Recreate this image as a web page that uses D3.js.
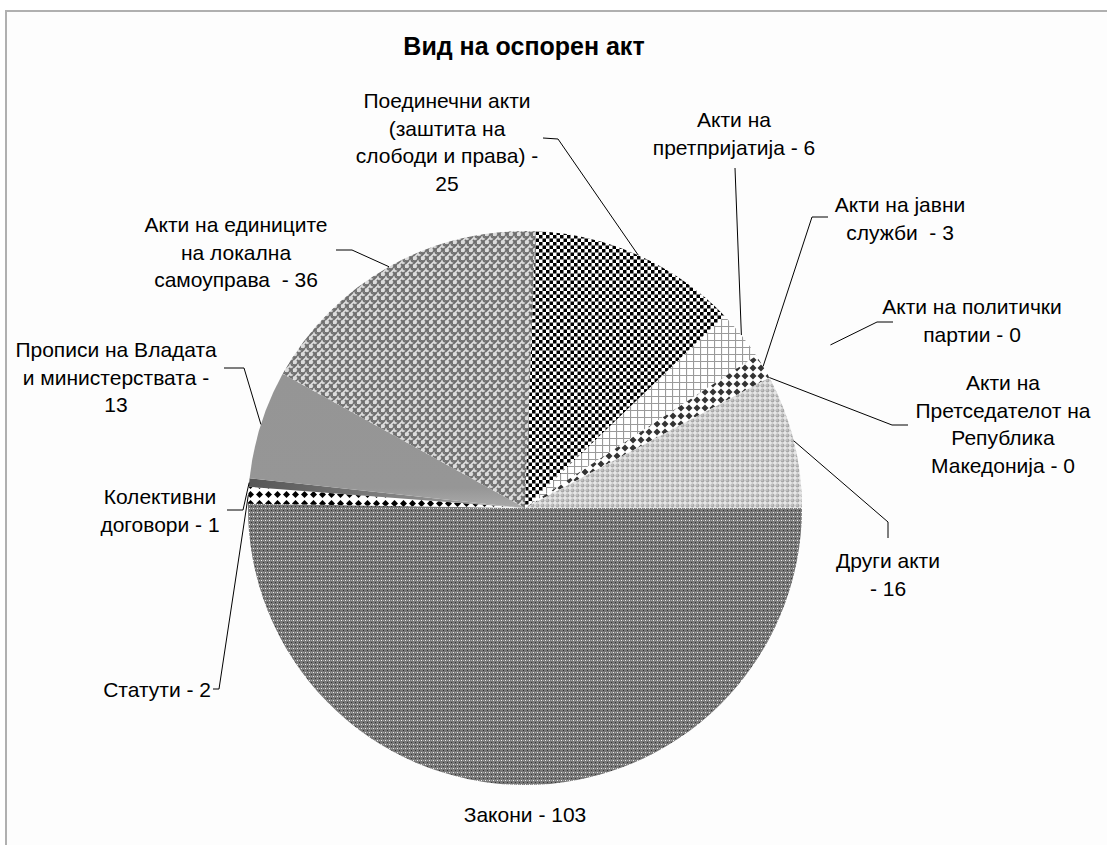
<!DOCTYPE html>
<meta charset="utf-8">
<head>
    <title>Вид на оспорен акт</title>
    <script type="text/javascript" src="https://cdn.jsdelivr.net/npm/d3@7"></script>
    <style>
        body { margin: 0; padding: 0; background: #ffffff; }
        text { font-family: "Liberation Sans", Arial, sans-serif; fill: #000; }
    </style>
</head>

<body>
    <script>
        // Data
        const categories = ["Закони", "Статути", "Колективни договори", "Прописи на Владата и министерствата",
            "Акти на единиците на локална самоуправа", "Поединечни акти (заштита на слободи и права)",
            "Акти на претпријатија", "Акти на јавни служби", "Акти на политички партии",
            "Акти на Претседателот на Република Македонија", "Други акти"];
        const values = [103, 2, 1, 13, 36, 25, 6, 3, 0, 0, 16];
        const labelLines = [
            ["Закони - 103"],
            ["Статути - 2"],
            ["Колективни", "договори - 1"],
            ["Прописи на Владата", "и министерствата -", "13"],
            ["Акти на единиците", "на локална", "самоуправа  - 36"],
            ["Поединечни акти", "(заштита на", "слободи и права) -", "25"],
            ["Акти на", "претпријатија - 6"],
            ["Акти на јавни", "служби  - 3"],
            ["Акти на политички", "партии - 0"],
            ["Акти на", "Претседателот на", "Република", "Македонија - 0"],
            ["Други акти", "- 16"]
        ];
        const title = "Вид на оспорен акт";

        // Layout of labels (text position, anchor, leader elbows, leader reach)
        const labelLayout = [
            {x: 525, y: 822, anchor: "middle", elbow: null, reach: 1},
            {x: 211, y: 697, anchor: "end", elbow: [[213, 689], [219, 689]], reach: 1},
            {x: 160, y: 504, anchor: "middle", elbow: [[227, 510], [243, 510]], reach: 1},
            {x: 116, y: 357, anchor: "middle", elbow: [[224, 368], [244, 368]], reach: 1},
            {x: 236, y: 232, anchor: "middle", elbow: [[336, 250], [352, 250]], reach: 1},
            {x: 447, y: 108, anchor: "middle", elbow: [[543, 138], [558, 139]], reach: 1},
            {x: 734, y: 127, anchor: "middle", elbow: [[735, 168]], reach: 1},
            {x: 900, y: 212, anchor: "middle", elbow: [[828, 217], [812, 217]], reach: 1},
            {x: 972, y: 314, anchor: "middle", elbow: [[893, 322], [877, 322]], reach: 1.25},
            {x: 1003, y: 390, anchor: "middle", elbow: [[908, 425], [892, 425]], reach: 1},
            {x: 888, y: 568, anchor: "middle", elbow: [[888, 538], [888, 522]], reach: 1}
        ];
        const lineHeight = 27.5;

        const width = 1107, height = 845;
        const cx = 525, cy = 508, radius = 277;

        const svg = d3.select("body")
            .append("svg")
            .attr("width", width)
            .attr("height", height);

        const defs = svg.append("defs");

        // patterns (Excel style fills)
        // Закони - gray fine checker
        let p = defs.append("pattern").attr("id", "p0").attr("patternUnits", "userSpaceOnUse")
            .attr("width", 4).attr("height", 4);
        p.append("rect").attr("width", 4).attr("height", 4).attr("fill", "#777");
        p.append("rect").attr("x", 0).attr("y", 0).attr("width", 1).attr("height", 1).attr("fill", "#eee");
        p.append("rect").attr("x", 2).attr("y", 2).attr("width", 1).attr("height", 1).attr("fill", "#333");
        p.append("rect").attr("x", 2).attr("y", 0).attr("width", 1).attr("height", 1).attr("fill", "#aaa");

        // Статути - black diamonds
        p = defs.append("pattern").attr("id", "p1").attr("patternUnits", "userSpaceOnUse")
            .attr("width", 9).attr("height", 9);
        p.append("rect").attr("width", 9).attr("height", 9).attr("fill", "#fff");
        p.append("path").attr("d", "M4.5,1 L8,4.5 L4.5,8 L1,4.5 Z").attr("fill", "#000");

        // Колективни - dark gradient
        let g = defs.append("linearGradient").attr("id", "p2").attr("x1", "0").attr("x2", "1").attr("y1", "0").attr("y2", "0");
        g.append("stop").attr("offset", "0").attr("stop-color", "#555");
        g.append("stop").attr("offset", "1").attr("stop-color", "#aaa");

        // Прописи - gray gradient
        g = defs.append("linearGradient").attr("id", "p3").attr("x1", "0").attr("x2", "0").attr("y1", "1").attr("y2", "0");
        g.append("stop").attr("offset", "0").attr("stop-color", "#aaaaaa");
        g.append("stop").attr("offset", "0.15").attr("stop-color", "#969696");
        g.append("stop").attr("offset", "1").attr("stop-color", "#959595");

        // Акти на единиците - weave
        p = defs.append("pattern").attr("id", "p4").attr("patternUnits", "userSpaceOnUse")
            .attr("width", 8).attr("height", 8);
        p.append("rect").attr("width", 8).attr("height", 8).attr("fill", "#dcdcdc");
        p.append("path").attr("d", "M0,4 L4,0 M4,8 L8,4 M0,0 L2,2 M4,4 L8,8 M6,0 L8,2")
            .attr("stroke", "#6e6e6e").attr("stroke-width", 2).attr("fill", "none");

        // Поединечни - black checkerboard
        p = defs.append("pattern").attr("id", "p5").attr("patternUnits", "userSpaceOnUse")
            .attr("width", 7).attr("height", 7);
        p.append("rect").attr("width", 7).attr("height", 7).attr("fill", "#fff");
        p.append("rect").attr("width", 3.5).attr("height", 3.5).attr("fill", "#000");
        p.append("rect").attr("x", 3.5).attr("y", 3.5).attr("width", 3.5).attr("height", 3.5).attr("fill", "#000");

        // претпријатија - grid
        p = defs.append("pattern").attr("id", "p6").attr("patternUnits", "userSpaceOnUse")
            .attr("width", 7).attr("height", 7);
        p.append("rect").attr("width", 7).attr("height", 7).attr("fill", "#fff");
        p.append("path").attr("d", "M0,0.5 H7 M0.5,0 V7").attr("stroke", "#9a9a9a").attr("stroke-width", 1.2);

        // јавни служби - dark diamonds
        p = defs.append("pattern").attr("id", "p7").attr("patternUnits", "userSpaceOnUse")
            .attr("width", 8).attr("height", 8);
        p.append("rect").attr("width", 8).attr("height", 8).attr("fill", "#fff");
        p.append("path").attr("d", "M4,0.5 L7.5,4 L4,7.5 L0.5,4 Z").attr("fill", "#333");

        defs.append("pattern").attr("id", "p8");
        defs.append("pattern").attr("id", "p9");

        // Други акти - light gray dots
        p = defs.append("pattern").attr("id", "p10").attr("patternUnits", "userSpaceOnUse")
            .attr("width", 5).attr("height", 5);
        p.append("rect").attr("width", 5).attr("height", 5).attr("fill", "#e6e6e6");
        p.append("circle").attr("cx", 2.5).attr("cy", 2.5).attr("r", 2).attr("fill", "#a8a8a8");
        p.append("circle").attr("cx", 2).attr("cy", 2).attr("r", 0.8).attr("fill", "#d8d8d8");

        // frame
        svg.append("rect")
            .attr("x", 6).attr("y", 11)
            .attr("width", width + 20).attr("height", height + 20)
            .attr("fill", "#fdfdfd")
            .attr("stroke", "#b0b0b0")
            .attr("stroke-width", 2);

        // title
        svg.append("text")
            .attr("x", 524).attr("y", 55)
            .attr("text-anchor", "middle")
            .attr("font-size", 25)
            .attr("font-weight", "bold")
            .text(title);

        // pie
        const pie = d3.pie().sort(null).value(d => d)
            .startAngle(Math.PI / 2).endAngle(Math.PI / 2 + 2 * Math.PI);
        const arcs = pie(values);
        const arc = d3.arc().innerRadius(0).outerRadius(radius);

        const chart = svg.append("g").attr("transform", `translate(${cx},${cy})`);
        chart.selectAll("path")
            .data(arcs)
            .enter()
            .append("path")
            .attr("d", arc)
            .attr("fill", (d, i) => `url(#p${i})`);

        // leader lines and labels
        arcs.forEach((d, i) => {
            const L = labelLayout[i];
            const mid = (d.startAngle + d.endAngle) / 2;
            const r = radius * L.reach;
            const px = cx + Math.sin(mid) * r, py = cy - Math.cos(mid) * r;
            if (L.elbow) {
                const pts = L.elbow.concat([[px, py]]);
                svg.append("path")
                    .attr("d", d3.line()(pts))
                    .attr("fill", "none")
                    .attr("stroke", "#000")
                    .attr("stroke-width", 1);
            }
            const t = svg.append("text")
                .attr("text-anchor", L.anchor)
                .attr("font-size", 21);
            labelLines[i].forEach((s, k) => {
                t.append("tspan")
                    .attr("x", L.x)
                    .attr("y", L.y + k * lineHeight)
                    .style("white-space", "pre")
                    .text(s);
            });
        });
    </script>
</body>
</html>
